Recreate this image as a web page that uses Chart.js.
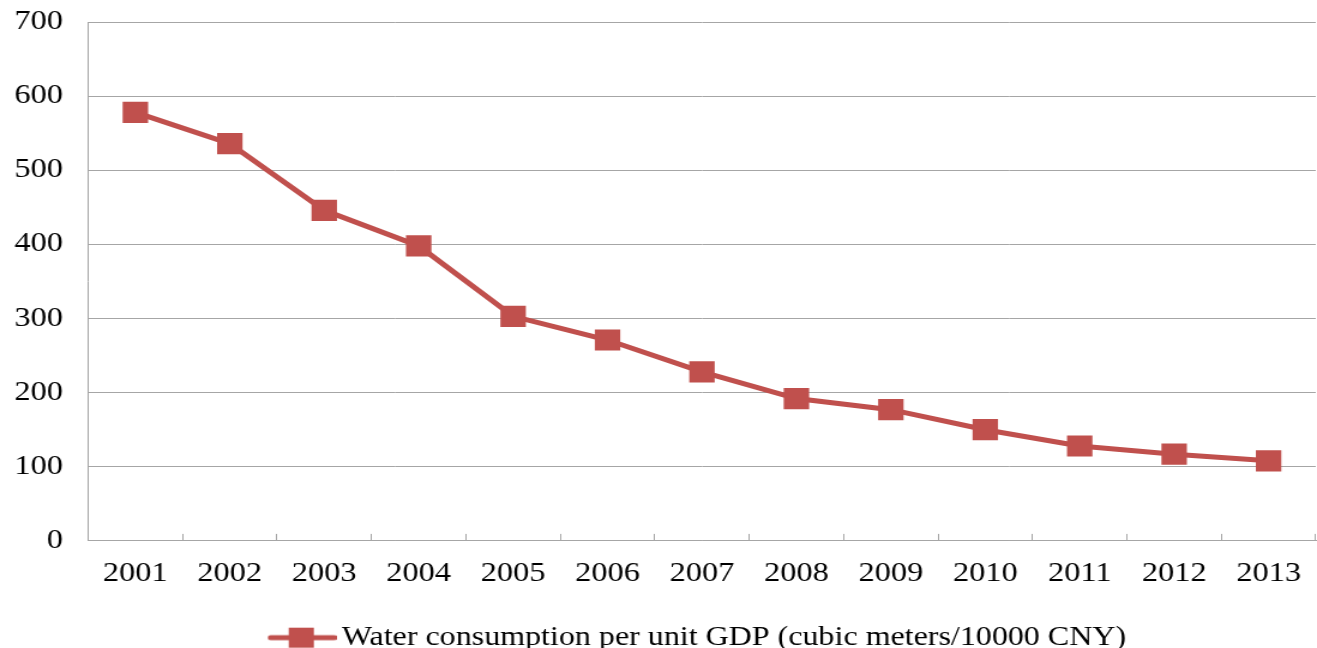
<!DOCTYPE html>
<html>
<head>
<meta charset="utf-8">
<script src="https://cdn.jsdelivr.net/npm/chart.js@4"></script>
<style>
  html, body { margin: 0; padding: 0; background: #fff; overflow: hidden; }
  /* the reference picture is stretched sideways, so draw narrow and widen */
  #wrap { width: 1098px; height: 648px; transform-origin: 0 0; transform: scaleX(1.19945); }
</style>
</head>
<body>
<div id="wrap"><canvas id="waterChart" width="1098" height="648"></canvas></div>
<script>
// data
const years = ["2001","2002","2003","2004","2005","2006","2007","2008","2009","2010","2011","2012","2013"];
const waterPerGdp = [578, 536, 446, 398, 303, 271, 228, 192, 177, 150, 128, 117, 108];
const seriesLabel = "Water consumption per unit GDP (cubic meters/10000 CNY)";
const yTicks = [0, 100, 200, 300, 400, 500, 600, 700];

const RED = "#C0504D";
const GRID = "#A6A6A6";
const FONT = "'Liberation Serif', 'Times New Roman', serif";

// legend swatch: line with a square on it
function legendSwatch(){
  const c = document.createElement("canvas");
  c.width = 58; c.height = 22;
  const g = c.getContext("2d");
  g.strokeStyle = RED; g.lineWidth = 5; g.lineCap = "round";
  g.beginPath(); g.moveTo(3, 11); g.lineTo(56, 11); g.stroke();
  g.fillStyle = RED;
  g.fillRect(18, 1, 21, 20);
  return c;
}

// keep label overhang from eating into the plot area
function noEdgePadding(scale){
  scale.paddingTop = 0; scale.paddingBottom = 0;
  scale.paddingLeft = 0; scale.paddingRight = 0;
}

(function(){
  const el = document.getElementById("waterChart");
  const swatch = legendSwatch();

  new Chart(el, {
    type: "line",
    data: {
      labels: years,
      datasets: [{
        label: seriesLabel,
        data: waterPerGdp,
        borderColor: RED,
        backgroundColor: RED,
        borderWidth: 5,
        pointStyle: "rect",
        pointRadius: 15,
        pointHoverRadius: 15,
        pointBorderWidth: 0,
        tension: 0
      }]
    },
    options: {
      responsive: false,
      animation: false,
      devicePixelRatio: 1,
      layout: { autoPadding: false, padding: { left: -9, right: 1, top: 22, bottom: -13 } },
      plugins: {
        tooltip: { enabled: false },
        legend: {
          position: "bottom",
          fullSize: false,
          labels: {
            usePointStyle: true,
            pointStyle: swatch,
            pointStyleWidth: 40,
            color: "#000",
            padding: 2,
            font: { family: FONT, size: 26.7 },
            generateLabels: () => [{
              text: seriesLabel,
              pointStyle: swatch,
              fillStyle: RED,
              strokeStyle: RED,
              lineWidth: 0,
              fontColor: "#000",
              datasetIndex: 0
            }]
          }
        }
      },
      scales: {
        x: {
          offset: true,
          afterFit: (scale) => { noEdgePadding(scale); scale.height += 8; },
          grid: {
            offset: true,
            drawOnChartArea: false,
            drawTicks: true,
            tickLength: -7,
            color: GRID,
            lineWidth: 1
          },
          border: { display: true, color: GRID, width: 1 },
          ticks: {
            color: "#000",
            padding: 15,
            maxRotation: 0,
            autoSkip: false,
            font: { family: FONT, size: 27, lineHeight: 1.867 }
          }
        },
        y: {
          min: 0,
          max: 700,
          afterFit: noEdgePadding,
          afterBuildTicks: (axis) => { axis.ticks = yTicks.map(v => ({ value: v })); },
          grid: { color: GRID, lineWidth: 1, drawTicks: false },
          border: { display: true, color: GRID, width: 1 },
          ticks: {
            color: "#000",
            padding: 21,
            font: { family: FONT, size: 27 }
          }
        }
      }
    }
  });
})();
</script>
</body>
</html>
